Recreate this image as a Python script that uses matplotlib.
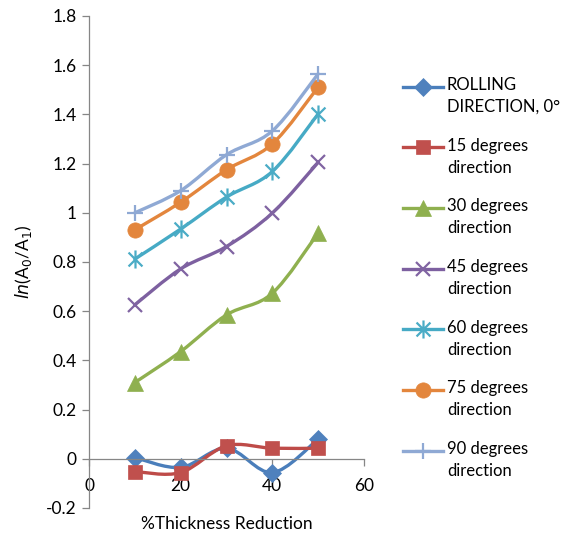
import matplotlib
matplotlib.use("Agg")
import matplotlib.pyplot as plt
import numpy as np
from matplotlib.path import Path
from matplotlib.patches import PathPatch
from matplotlib.legend_handler import HandlerLine2D

plt.rcParams['font.family'] = ['Lato', 'DejaVu Sans']

thickness_reduction = [10, 20, 30, 40, 50]
series_labels = ["ROLLING\nDIRECTION, 0°", "15 degrees\ndirection", "30 degrees\ndirection",
                 "45 degrees\ndirection", "60 degrees\ndirection", "75 degrees\ndirection",
                 "90 degrees\ndirection"]
rolling_0 = [0.005, -0.035, 0.043, -0.056, 0.08]
deg_15 = [-0.052, -0.056, 0.053, 0.043, 0.043]
deg_30 = [0.31, 0.436, 0.585, 0.673, 0.918]
deg_45 = [0.626, 0.772, 0.863, 0.999, 1.205]
deg_60 = [0.812, 0.934, 1.064, 1.168, 1.402]
deg_75 = [0.931, 1.043, 1.175, 1.28, 1.511]
deg_90 = [1.0, 1.09, 1.236, 1.333, 1.565]
all_series = [rolling_0, deg_15, deg_30, deg_45, deg_60, deg_75, deg_90]

x_ticks = [0, 20, 40, 60]
y_ticks = [-0.2, 0, 0.2, 0.4, 0.6, 0.8, 1, 1.2, 1.4, 1.6, 1.8]
y_ticklabels = ["-0.2", "0", "0.2", "0.4", "0.6", "0.8", "1", "1.2", "1.4", "1.6", "1.8"]

line_colors = ["#4A7EBB", "#BE4B48", "#8FB04F", "#7D60A0", "#46AAC5", "#E3863D", "#8FA9D4"]
marker_colors = ["#4F81BD", "#C0504D", "#8FB04F", "#8064A2", "#4BACC6", "#E3863D", "#8FA9D4"]

asterisk = Path([(-1, -1), (1, 1), (-1, 1), (1, -1), (0, -1.3), (0, 1.3)],
                [Path.MOVETO, Path.LINETO, Path.MOVETO, Path.LINETO, Path.MOVETO, Path.LINETO])
markers = ['D', 's', '^', 'x', asterisk, 'o', '+']
msizes = [9, 10, 11, 10, 13, 11, 11]

FS = 12.5
LFS = 12

fig = plt.figure(figsize=(5.70, 5.33), dpi=100)
ax = fig.add_axes([89/570, 1-508/533, (364-89)/570, (508-16)/533])


def smooth_path(xs, ys):
    pts = np.column_stack([xs, ys]).astype(float)
    n = len(pts)
    verts = [pts[0]]
    codes = [Path.MOVETO]
    for i in range(n - 1):
        p0 = pts[i - 1] if i > 0 else pts[i]
        p1 = pts[i]
        p2 = pts[i + 1]
        p3 = pts[i + 2] if i + 2 < n else pts[i + 1]
        c1 = p1 + (p2 - p0) / 6.0
        c2 = p2 - (p3 - p1) / 6.0
        verts += [c1, c2, p2]
        codes += [Path.CURVE4] * 3
    return Path(verts, codes)


handles = []
for i, ys in enumerate(all_series):
    patch = PathPatch(smooth_path(thickness_reduction, ys), fill=False,
                      edgecolor=line_colors[i], linewidth=2.4, zorder=2 + i * 0.1,
                      capstyle='round', joinstyle='round')
    ax.add_patch(patch)
    mk = markers[i]
    is_line_marker = (isinstance(mk, str) and mk in ('x', '+')) or isinstance(mk, Path)
    mew = 1.6 if is_line_marker else 0.5
    ax.plot(thickness_reduction, ys, linestyle='none', marker=mk,
            markersize=msizes[i], color=marker_colors[i],
            markeredgewidth=mew, markeredgecolor=marker_colors[i],
            zorder=2.05 + i * 0.1)
    proxy = matplotlib.lines.Line2D([], [], color=line_colors[i], linewidth=2.4,
                                    marker=mk, markersize=msizes[i],
                                    markerfacecolor=marker_colors[i],
                                    markeredgecolor=marker_colors[i],
                                    markeredgewidth=mew)
    handles.append(proxy)

ax.set_xlim(0, 60)
ax.set_ylim(-0.2, 1.8)
ax.set_xticks(x_ticks)
ax.set_yticks(y_ticks)
ax.set_yticklabels(y_ticklabels)

for s in ['top', 'right']:
    ax.spines[s].set_visible(False)
ax.spines['bottom'].set_position(('data', 0))
ax.spines['bottom'].set_color('#868686')
ax.spines['left'].set_color('#868686')
ax.spines['bottom'].set_linewidth(0.9)
ax.spines['left'].set_linewidth(0.9)
ax.tick_params(axis='both', direction='out', length=5, width=0.9, color='#868686',
               labelsize=FS, labelcolor='black')
ax.tick_params(axis='y', pad=4)
ax.tick_params(axis='x', pad=9)

ax.set_xlabel("%Thickness Reduction", fontsize=FS)
ax.xaxis.set_label_coords(0.5, -0.016)
ax.set_ylabel(r"$\mathit{ln}$(A$_0$/A$_1$)", fontsize=FS)
ax.yaxis.set_label_coords(-0.2, 0.5)


class UpHandler(HandlerLine2D):
    def create_artists(self, legend, orig_handle, xdescent, ydescent, width, height, fontsize, trans):
        arts = super().create_artists(legend, orig_handle, xdescent, ydescent, width, height, fontsize, trans)
        for a in arts:
            a.set_ydata(np.asarray(a.get_ydata()) + 0.6 * fontsize)
        return arts


leg = fig.legend(handles, series_labels, loc='upper left',
                 bbox_to_anchor=(403/570, 1-77/533), frameon=False, fontsize=LFS,
                 handlelength=2.4, handletextpad=0.24, labelspacing=1.37, borderpad=0,
                 borderaxespad=0,
                 handler_map={matplotlib.lines.Line2D: UpHandler(numpoints=1)})
for t in leg.get_texts():
    t.set_linespacing(1.45)

fig.savefig("out.png", dpi=100)
